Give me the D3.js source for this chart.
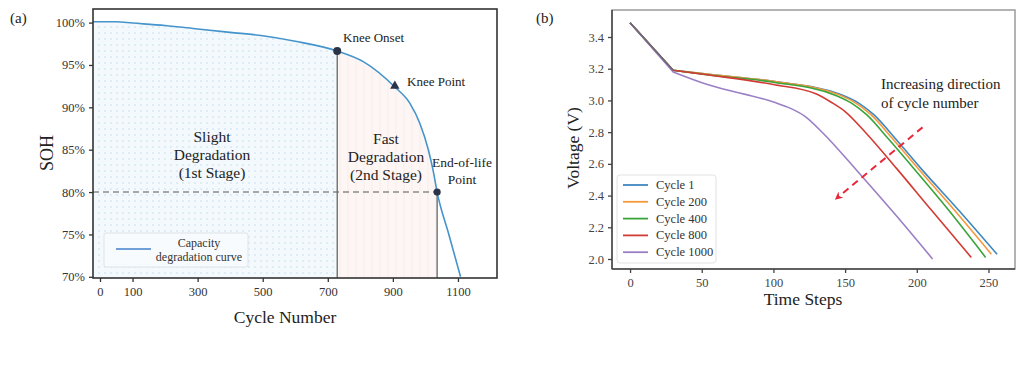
<!DOCTYPE html>
<html>
<head>
<meta charset="utf-8">
<script src="https://cdn.jsdelivr.net/npm/d3@7"></script>
<style>
  body { margin: 0; background: #fff; }
  svg { display: block; font-family: "Liberation Serif", "DejaVu Serif", serif; }
</style>
</head>
<body>
<div id="chart"></div>
<script>
// panel (a) data: capacity degradation curve
var sohCycles = [0, 50, 100, 200, 300, 400, 500, 600, 729, 809, 906, 952, 983, 1009, 1024, 1036, 1072, 1108];
var sohValues = [100.1, 100.1, 99.95, 99.65, 99.25, 98.85, 98.45, 97.8, 96.65, 95.4, 92.4, 90.5, 88.1, 85.0, 82.5, 80.0, 75.0, 70.0];
var sohTicks = [70, 75, 80, 85, 90, 95, 100];
var cycleTicks = [0, 100, 300, 500, 700, 900, 1100];
var kneeOnset = [729, 96.65];
var kneePoint = [906, 92.4];
var endOfLife = [1036, 80.0];
var eolThreshold = 80;

// panel (b) data: discharge voltage curves
var cycleNames = ["Cycle 1", "Cycle 200", "Cycle 400", "Cycle 800", "Cycle 1000"];
var cycleColors = ["#3f86c0", "#f5993a", "#3aa43a", "#d23b34", "#9b7fc4"];
var timeSteps = [
  [0, 30, 55, 100, 146, 160, 170, 185, 203, 230, 256],
  [0, 30, 55, 100, 146, 158, 168, 183, 200, 226, 252],
  [0, 30, 55, 100, 144, 155, 165, 180, 197, 222, 248],
  [0, 30, 55, 100, 130, 140, 150, 165, 186, 210, 238],
  [0, 30, 54, 100, 112, 122, 135, 158, 185, 211]
];
var voltages = [
  [3.49, 3.19, 3.165, 3.12, 3.04, 2.98, 2.91, 2.76, 2.57, 2.30, 2.03],
  [3.49, 3.19, 3.165, 3.12, 3.035, 2.98, 2.91, 2.76, 2.58, 2.31, 2.03],
  [3.49, 3.19, 3.16, 3.115, 3.03, 2.98, 2.91, 2.76, 2.58, 2.31, 2.01],
  [3.49, 3.19, 3.16, 3.10, 3.04, 2.99, 2.93, 2.79, 2.57, 2.31, 2.01],
  [3.49, 3.18, 3.10, 2.99, 2.95, 2.90, 2.79, 2.56, 2.28, 2.0]
];
var voltTicks = [2.0, 2.2, 2.4, 2.6, 2.8, 3.0, 3.2, 3.4];
var timeTicks = [0, 50, 100, 150, 200, 250];
var arrowFrom = [204, 2.83];
var arrowTo = [145, 2.39];

var svg = d3.select("#chart").append("svg")
  .attr("width", 1024)
  .attr("height", 365);
svg.append("rect").attr("width", 1024).attr("height", 365).attr("fill", "#fff");

var defs = svg.append("defs");
var dots = defs.append("pattern").attr("id", "dots")
  .attr("width", 6).attr("height", 6).attr("patternUnits", "userSpaceOnUse");
dots.append("rect").attr("width", 6).attr("height", 6).attr("fill", "#f3f9fc");
dots.append("circle").attr("cx", 3).attr("cy", 3).attr("r", 0.7).attr("fill", "#b9d7ea");
var hatch = defs.append("pattern").attr("id", "hatch")
  .attr("width", 8).attr("height", 8).attr("patternUnits", "userSpaceOnUse");
hatch.append("rect").attr("width", 8).attr("height", 8).attr("fill", "#fdf6f4");
hatch.append("line").attr("x1", 4).attr("x2", 4).attr("y1", 0).attr("y2", 8)
  .attr("stroke", "#f6ebe8").attr("stroke-width", 0.8);
defs.append("marker").attr("id", "arrow")
  .attr("viewBox", "0 0 10 10").attr("refX", 5).attr("refY", 5)
  .attr("markerWidth", 4).attr("markerHeight", 4).attr("orient", "auto")
  .append("path").attr("d", "M0,0 L10,5 L0,10 L3,5 Z").attr("fill", "#e8283a");

// ---------- panel (a) ----------
var a = { left: 93, right: 497, top: 9, bottom: 278 };
var xA = d3.scaleLinear().domain([-21.5, 1220]).range([a.left, a.right]);
var yA = d3.scaleLinear().domain([70, 100]).range([276.8, 22.6]);
var soh = sohCycles.map(function(c, i) { return [c, sohValues[i]]; });

var gA = svg.append("g");
// start the fill at the frame edge
var fillPts = [[xA.domain()[0], sohValues[0]]].concat(soh);
var area = d3.area()
  .x(function(d) { return xA(d[0]); })
  .y0(a.bottom)
  .y1(function(d) { return yA(d[1]); })
  .curve(d3.curveMonotoneX);
gA.append("path")
  .datum(fillPts.filter(function(d) { return d[0] <= kneeOnset[0]; }))
  .attr("d", area).attr("fill", "url(#dots)");
gA.append("path")
  .datum(soh.filter(function(d) { return d[0] >= kneeOnset[0] && d[0] <= endOfLife[0]; }))
  .attr("d", area).attr("fill", "url(#hatch)");

gA.append("line")
  .attr("x1", a.left).attr("x2", xA(endOfLife[0]))
  .attr("y1", yA(eolThreshold)).attr("y2", yA(eolThreshold))
  .attr("stroke", "#8a8a8a").attr("stroke-width", 1.6).attr("stroke-dasharray", "6,4");
[kneeOnset, endOfLife].forEach(function(p) {
  gA.append("line")
    .attr("x1", xA(p[0])).attr("x2", xA(p[0]))
    .attr("y1", yA(p[1])).attr("y2", a.bottom)
    .attr("stroke", "#666").attr("stroke-width", 1.3);
});

gA.append("path").datum(fillPts)
  .attr("d", d3.line()
    .x(function(d) { return xA(d[0]); })
    .y(function(d) { return yA(d[1]); })
    .curve(d3.curveMonotoneX))
  .attr("fill", "none").attr("stroke", "#4594cc").attr("stroke-width", 1.6);

gA.append("circle").attr("cx", xA(kneeOnset[0])).attr("cy", yA(kneeOnset[1])).attr("r", 4).attr("fill", "#2a3348");
gA.append("circle").attr("cx", xA(endOfLife[0])).attr("cy", yA(endOfLife[1])).attr("r", 3.6).attr("fill", "#2a3348");
gA.append("path")
  .attr("d", d3.symbol().type(d3.symbolTriangle).size(38))
  .attr("transform", "translate(" + xA(kneePoint[0]) + "," + (yA(kneePoint[1]) - 1) + ")")
  .attr("fill", "#2a3348");

// frame + axes
gA.append("rect")
  .attr("x", a.left).attr("y", a.top)
  .attr("width", a.right - a.left).attr("height", a.bottom - a.top)
  .attr("fill", "none").attr("stroke", "#333").attr("stroke-width", 1.6);
var axA = gA.append("g").attr("transform", "translate(0," + a.bottom + ")")
  .call(d3.axisBottom(xA).tickValues(cycleTicks).tickSize(4).tickPadding(5).tickFormat(d3.format("d")));
var ayA = gA.append("g").attr("transform", "translate(" + a.left + ",0)")
  .call(d3.axisLeft(yA).tickValues(sohTicks).tickSize(4).tickPadding(4)
    .tickFormat(function(d) { return d + "%"; }));
[axA, ayA].forEach(function(ax) {
  ax.select(".domain").remove();
  ax.selectAll("line").attr("stroke", "#333").attr("stroke-width", 1.3);
  ax.selectAll("text").attr("font-family", "Liberation Serif").attr("font-size", 12.5).attr("fill", "#333");
});

// legend (a)
gA.append("rect").attr("x", 104).attr("y", 233).attr("width", 144).attr("height", 34)
  .attr("fill", "#f8fbfd").attr("stroke", "#dde3e8").attr("stroke-width", 1).attr("rx", 2);
gA.append("line").attr("x1", 116).attr("x2", 151).attr("y1", 249).attr("y2", 249)
  .attr("stroke", "#6f9fd6").attr("stroke-width", 2);
gA.append("text").attr("x", 199).attr("y", 247).attr("text-anchor", "middle")
  .attr("font-size", 12).attr("fill", "#333").text("Capacity");
gA.append("text").attr("x", 199).attr("y", 261).attr("text-anchor", "middle")
  .attr("font-size", 12).attr("fill", "#333").text("degradation curve");

function block(g, x, ys, lines, size) {
  lines.forEach(function(t, i) {
    g.append("text").attr("x", x).attr("y", ys[i]).attr("text-anchor", "middle")
      .attr("font-size", size).attr("fill", "#222").text(t);
  });
}
block(gA, 212, [142, 160, 178], ["Slight", "Degradation", "(1st Stage)"], 15.5);
block(gA, 386, [144, 162, 180], ["Fast", "Degradation", "(2nd Stage)"], 15.5);
block(gA, 462, [167, 184], ["End-of-life", "Point"], 13.5);
gA.append("text").attr("x", 343).attr("y", 42).attr("font-size", 13).attr("fill", "#222").text("Knee Onset");
gA.append("text").attr("x", 407).attr("y", 86).attr("font-size", 13).attr("fill", "#222").text("Knee Point");

gA.append("text").attr("x", 285).attr("y", 323).attr("text-anchor", "middle")
  .attr("font-size", 17.5).attr("fill", "#222").text("Cycle Number");
gA.append("text").attr("transform", "translate(53,153) rotate(-90)").attr("text-anchor", "middle")
  .attr("font-size", 18).attr("fill", "#222").text("SOH");
gA.append("text").attr("x", 10).attr("y", 23).attr("font-size", 15).attr("fill", "#222").text("(a)");

// ---------- panel (b) ----------
var b = { left: 612, right: 1015, top: 10, bottom: 269 };
var xB = d3.scaleLinear().domain([-12.6, 268.5]).range([b.left, b.right]);
var yB = d3.scaleLinear().domain([2.0, 3.4]).range([259, 37]);
var gB = svg.append("g");

gB.append("rect")
  .attr("x", b.left).attr("y", b.top)
  .attr("width", b.right - b.left).attr("height", b.bottom - b.top)
  .attr("fill", "none").attr("stroke", "#9a9a9a").attr("stroke-width", 1.5);

var lineB = d3.line()
  .x(function(d) { return xB(d[0]); })
  .y(function(d) { return yB(d[1]); })
  .curve(d3.curveMonotoneX);
// first (charging-off) segment is straight, with a sharp kink after it
function curvePath(pts) {
  var rest = lineB(pts.slice(1));
  return "M" + xB(pts[0][0]) + "," + yB(pts[0][1]) + "L" + rest.slice(1);
}
cycleNames.forEach(function(name, i) {
  var pts = timeSteps[i].map(function(t, j) { return [t, voltages[i][j]]; });
  gB.append("path").attr("d", curvePath(pts))
    .attr("fill", "none").attr("stroke", cycleColors[i]).attr("stroke-width", 1.6);
});
// dark overlap of the shared first segment
gB.append("line")
  .attr("x1", xB(timeSteps[0][0])).attr("y1", yB(voltages[0][0]))
  .attr("x2", xB(timeSteps[0][1])).attr("y2", yB(voltages[0][1]))
  .attr("stroke", "#6b6b78").attr("stroke-width", 1.6);

gB.append("line")
  .attr("x1", xB(arrowFrom[0])).attr("y1", yB(arrowFrom[1]))
  .attr("x2", xB(arrowTo[0])).attr("y2", yB(arrowTo[1]))
  .attr("stroke", "#e8283a").attr("stroke-width", 2).attr("stroke-dasharray", "7,5")
  .attr("marker-end", "url(#arrow)");
gB.append("text").attr("x", 881).attr("y", 89).attr("font-size", 15).attr("fill", "#222").text("Increasing direction");
gB.append("text").attr("x", 881).attr("y", 108).attr("font-size", 15).attr("fill", "#222").text("of cycle number");

var axB = gB.append("g").attr("transform", "translate(0," + b.bottom + ")")
  .call(d3.axisBottom(xB).tickValues(timeTicks).tickSize(4).tickPadding(5));
var ayB = gB.append("g").attr("transform", "translate(" + b.left + ",0)")
  .call(d3.axisLeft(yB).tickValues(voltTicks).tickSize(4).tickPadding(4).tickFormat(d3.format(".1f")));
[axB, ayB].forEach(function(ax) {
  ax.select(".domain").attr("stroke", "#444").attr("stroke-width", 1.5);
  ax.selectAll(".tick line").attr("stroke", "#444").attr("stroke-width", 1.3);
  ax.selectAll("text").attr("font-family", "Liberation Serif").attr("font-size", 12.5).attr("fill", "#444");
});
axB.select(".domain").attr("d", "M" + b.left + ",0H" + b.right);
ayB.select(".domain").attr("d", "M0," + b.top + "V" + b.bottom);

// legend (b)
var leg = gB.append("g");
leg.append("rect").attr("x", 617).attr("y", 175).attr("width", 99).attr("height", 88)
  .attr("fill", "#fff").attr("fill-opacity", 0.85).attr("stroke", "#e2e2e2").attr("rx", 3);
cycleNames.forEach(function(name, i) {
  var y = 185 + i * 16.8;
  leg.append("line").attr("x1", 623).attr("x2", 648).attr("y1", y).attr("y2", y)
    .attr("stroke", cycleColors[i]).attr("stroke-width", 1.8);
  leg.append("text").attr("x", 656).attr("y", y + 4).attr("font-size", 12.5).attr("fill", "#333").text(name);
});

gB.append("text").attr("x", 803).attr("y", 305).attr("text-anchor", "middle")
  .attr("font-size", 17.5).attr("fill", "#222").text("Time Steps");
gB.append("text").attr("transform", "translate(579,148) rotate(-90)").attr("text-anchor", "middle")
  .attr("font-size", 17.5).attr("fill", "#222").text("Voltage (V)");
gB.append("text").attr("x", 536).attr("y", 23).attr("font-size", 15).attr("fill", "#222").text("(b)");
</script>
</body>
</html>
